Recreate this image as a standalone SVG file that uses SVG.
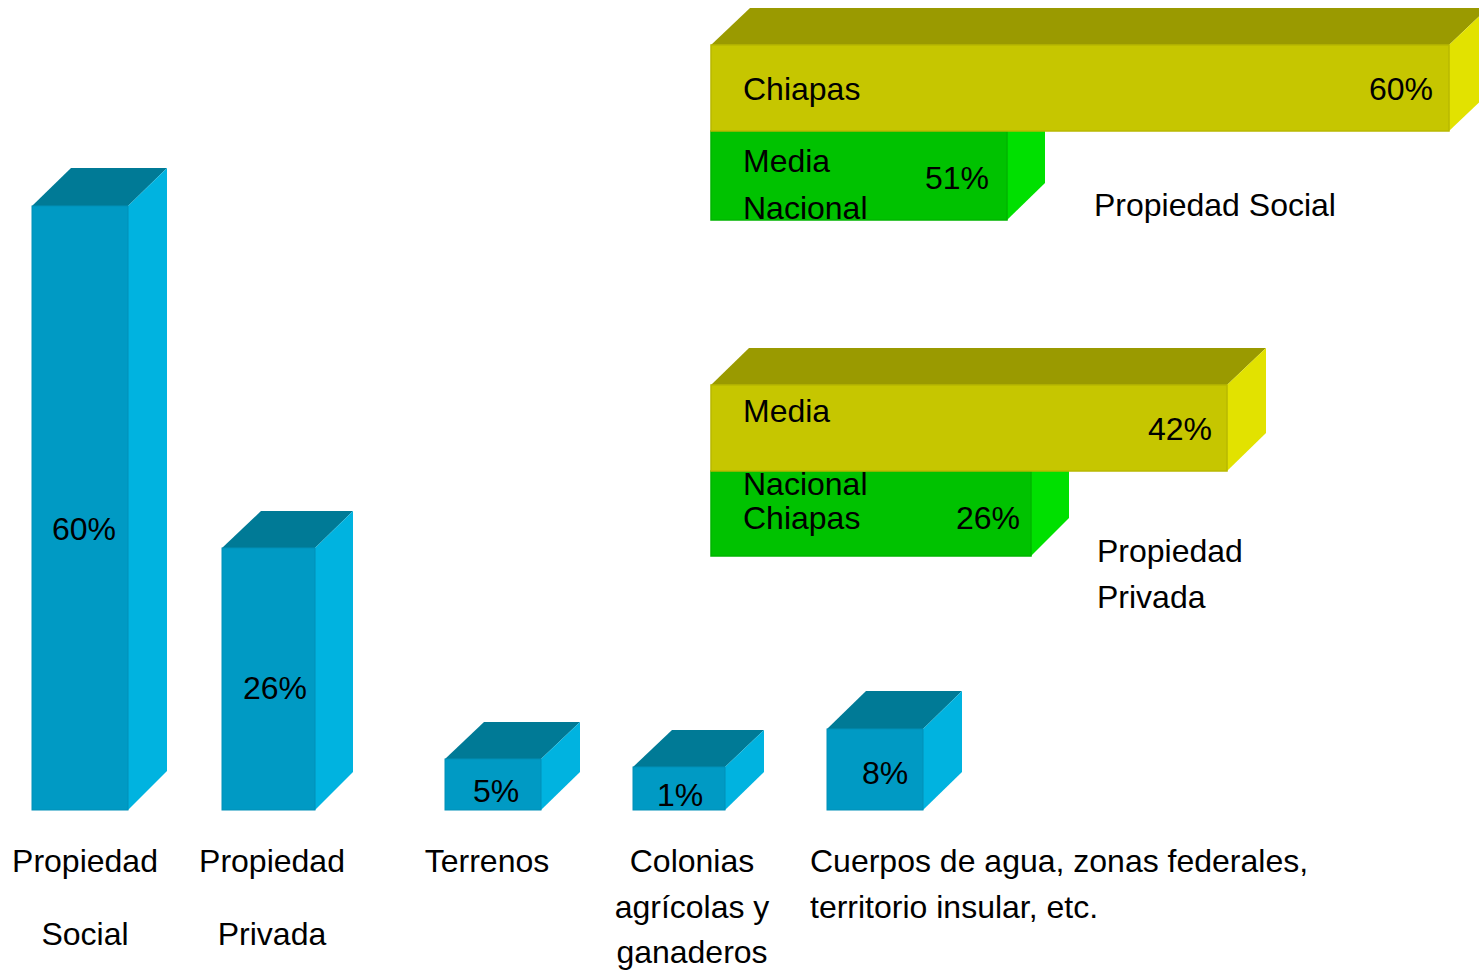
<svg xmlns="http://www.w3.org/2000/svg" width="1479" height="974" viewBox="0 0 1479 974">
<style>
text{font-family:"Liberation Sans",Arial,sans-serif;font-size:32px;fill:#000}
.m{text-anchor:middle}
.e{text-anchor:end}
.bf{fill:#009AC4;stroke:#0090B8;stroke-width:1}
.bt{fill:#007A96}
.bs{fill:#00B3E0}
.yf{fill:#C6C600;stroke:#B8B800;stroke-width:1.5}
.yt{fill:#9A9A00}
.ys{fill:#E2E200}
.gf{fill:#00C200;stroke:#00B400;stroke-width:1.5}
.gs{fill:#00E000}
</style>
<rect width="1479" height="974" fill="#fff"/>

<g id="bar-propiedad-social">
<polygon class="bt" points="32,206 71,168 167,168 128,206"/>
<polygon class="bs" points="128,206 167,168 167,771 128,810"/>
<rect class="bf" x="32" y="206" width="96" height="604"/>
<text class="m" x="84" y="540">60%</text>
</g>

<g id="bar-propiedad-privada">
<polygon class="bt" points="222,548 261,511 353,511 315,548"/>
<polygon class="bs" points="315,548 353,511 353,772 315,810"/>
<rect class="bf" x="222" y="548" width="93" height="262"/>
<text class="m" x="275" y="699">26%</text>
</g>

<g id="bar-terrenos">
<polygon class="bt" points="445,759 484,722 580,722 541,759"/>
<polygon class="bs" points="541,759 580,722 580,772 541,810"/>
<rect class="bf" x="445" y="759" width="96" height="51"/>
<text class="m" x="496" y="802">5%</text>
</g>

<g id="bar-colonias">
<polygon class="bt" points="633,767 672,730 764,730 725,767"/>
<polygon class="bs" points="725,767 764,730 764,772 725,810"/>
<rect class="bf" x="633" y="767" width="92" height="43"/>
<text class="m" x="680" y="806">1%</text>
</g>

<g id="bar-cuerpos">
<polygon class="bt" points="827,729 866,691 962,691 923,729"/>
<polygon class="bs" points="923,729 962,691 962,772 923,810"/>
<rect class="bf" x="827" y="729" width="96" height="81"/>
<text class="m" x="885" y="784">8%</text>
</g>

<g id="labels-bottom">
<text class="m" x="85" y="872">Propiedad</text>
<text class="m" x="85" y="945">Social</text>
<text class="m" x="272" y="872">Propiedad</text>
<text class="m" x="272" y="945">Privada</text>
<text class="m" x="487" y="872">Terrenos</text>
<text class="m" x="692" y="872">Colonias</text>
<text class="m" x="692" y="918">agrícolas y</text>
<text class="m" x="692" y="963">ganaderos</text>
<text x="810" y="872">Cuerpos de agua, zonas federales,</text>
<text x="810" y="918">territorio insular, etc.</text>
</g>

<g id="social-media-nacional">
<polygon class="gs" points="1007,131 1045,94 1045,183 1007,220"/>
<rect class="gf" x="711" y="131" width="296" height="89"/>
<text x="743" y="172">Media</text>
<text x="743" y="219">Nacional</text>
<text x="925" y="189">51%</text>
</g>

<g id="social-chiapas">
<polygon class="yt" points="711,45 750,8 1488,8 1449,45"/>
<polygon class="ys" points="1449,45 1488,8 1488,94 1449,131"/>
<rect class="yf" x="711" y="45" width="738" height="86"/>
<text x="743" y="100">Chiapas</text>
<text class="e" x="1433" y="100">60%</text>
</g>

<text id="label-propiedad-social" x="1094" y="216">Propiedad Social</text>

<g id="privada-chiapas">
<polygon class="gs" points="1031,471 1069,433 1069,518 1031,556"/>
<rect class="gf" x="711" y="471" width="320" height="85"/>
<text x="743" y="529">Chiapas</text>
<text class="e" x="1020" y="529">26%</text>
</g>

<g id="privada-media-nacional">
<polygon class="yt" points="711,385 749,348 1266,348 1227,385"/>
<polygon class="ys" points="1227,385 1266,348 1266,433 1227,471"/>
<rect class="yf" x="711" y="385" width="516" height="86"/>
<text x="743" y="422">Media</text>
<text class="e" x="1212" y="440">42%</text>
</g>
<text x="743" y="495">Nacional</text>

<g id="label-propiedad-privada">
<text x="1097" y="562">Propiedad</text>
<text x="1097" y="608">Privada</text>
</g>
</svg>
